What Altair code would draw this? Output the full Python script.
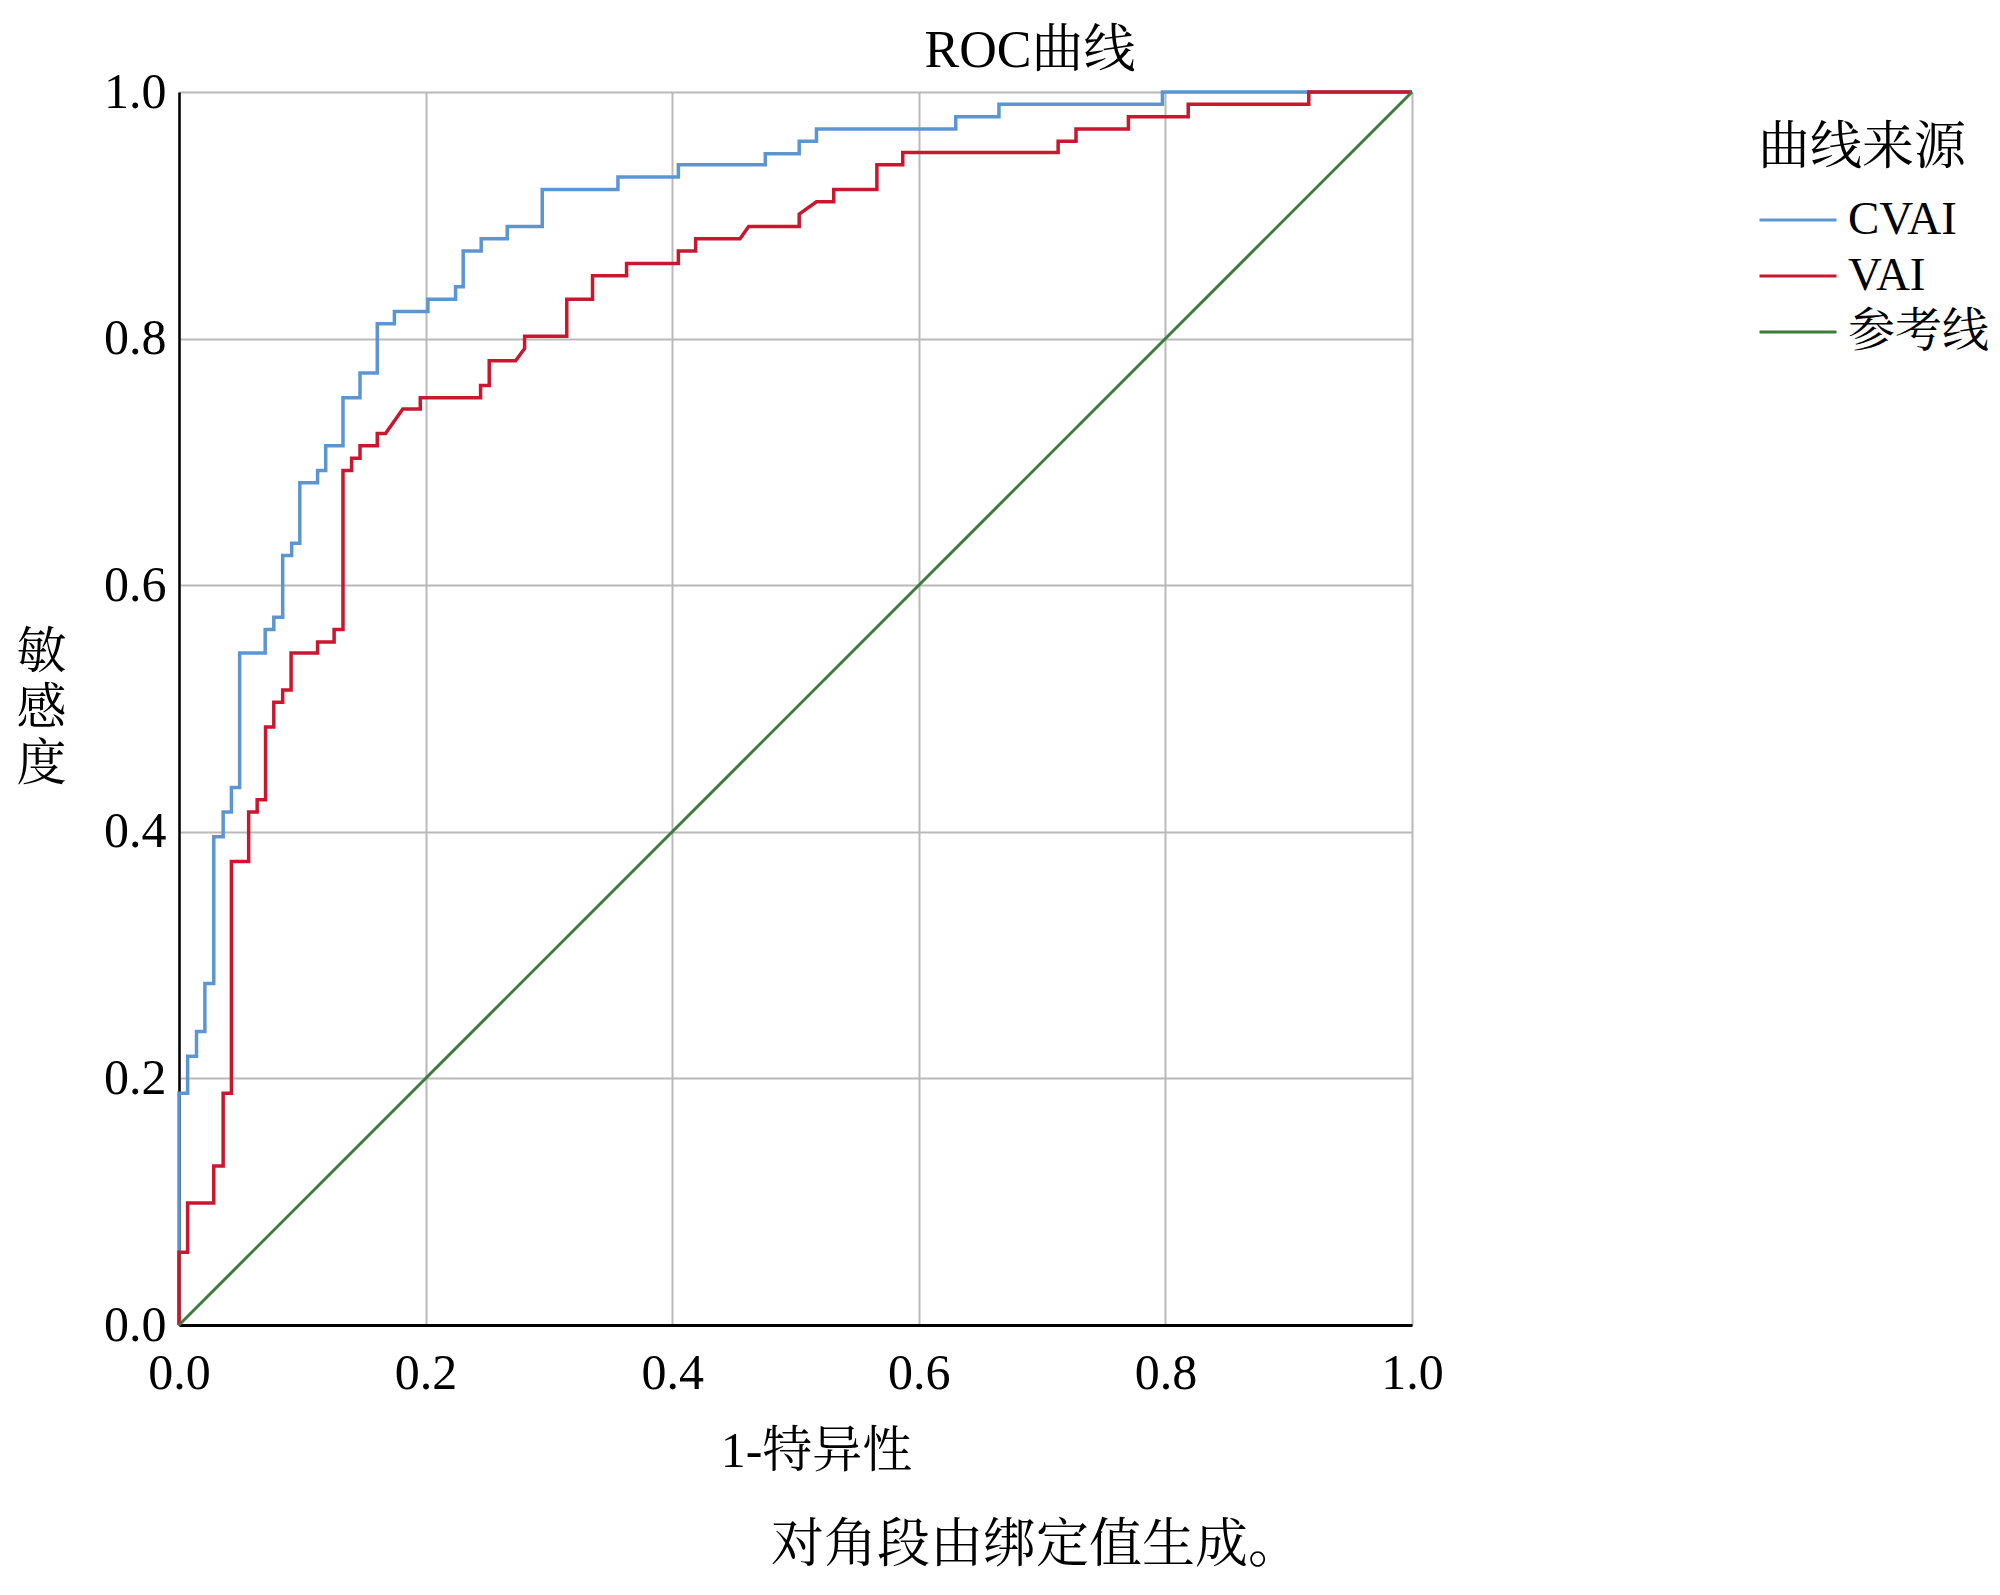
import altair as alt
import pandas as pd

# ---------------- data ----------------
series_names = ["CVAI", "VAI", "参考线"]
series_colors = ["#5b96d3", "#c8172f", "#3b7b3b"]
tick_values = [0.0, 0.2, 0.4, 0.6, 0.8, 1.0]

cvai_fpr = [0.0, 0.0, 0.007, 0.007, 0.0142, 0.0142, 0.021, 0.021, 0.0282, 0.0282,
            0.0358, 0.0358, 0.0425, 0.0425, 0.0492, 0.0492, 0.0699, 0.0699, 0.0769, 0.0769,
            0.0841, 0.0841, 0.0914, 0.0914, 0.098, 0.098, 0.1124, 0.1124, 0.119, 0.119,
            0.133, 0.133, 0.1468, 0.1468, 0.1608, 0.1608, 0.1747, 0.1747, 0.2019, 0.2019,
            0.2243, 0.2243, 0.2305, 0.2305, 0.2451, 0.2451, 0.2662, 0.2662, 0.2946, 0.2946,
            0.356, 0.356, 0.405, 0.405, 0.4755, 0.4755, 0.503, 0.503, 0.517, 0.517,
            0.630, 0.630, 0.665, 0.665, 0.7976, 0.7976, 1.0]
cvai_tpr = [0.0, 0.188, 0.188, 0.218, 0.218, 0.238, 0.238, 0.277, 0.277, 0.396,
            0.396, 0.416, 0.416, 0.436, 0.436, 0.545, 0.545, 0.564, 0.564, 0.574,
            0.574, 0.624, 0.624, 0.634, 0.634, 0.683, 0.683, 0.693, 0.693, 0.713,
            0.713, 0.752, 0.752, 0.772, 0.772, 0.812, 0.812, 0.822, 0.822, 0.832,
            0.832, 0.842, 0.842, 0.871, 0.871, 0.881, 0.881, 0.891, 0.891, 0.921,
            0.921, 0.931, 0.931, 0.941, 0.941, 0.950, 0.950, 0.960, 0.960, 0.970,
            0.970, 0.980, 0.980, 0.990, 0.990, 1.0, 1.0]

vai_fpr = [0.0, 0.0, 0.007, 0.007, 0.0282, 0.0282, 0.0358, 0.0358, 0.0425, 0.0425,
           0.0565, 0.0565, 0.0634, 0.0634, 0.0702, 0.0702, 0.0769, 0.0769, 0.0841, 0.0841,
           0.0909, 0.0909, 0.1124, 0.1124, 0.1258, 0.1258, 0.133, 0.133, 0.140, 0.140,
           0.1468, 0.1468, 0.1608, 0.1608, 0.1675, 0.1815, 0.1957, 0.1957, 0.2446, 0.2446,
           0.2516, 0.2516, 0.273, 0.2803, 0.2803, 0.3145, 0.3145, 0.3354, 0.3354, 0.363,
           0.363, 0.405, 0.405, 0.419, 0.419, 0.455, 0.462, 0.503, 0.503, 0.517,
           0.531, 0.531, 0.566, 0.566, 0.587, 0.587, 0.713, 0.713, 0.7275, 0.7275,
           0.770, 0.770, 0.8185, 0.8185, 0.9163, 0.9163, 1.0]
vai_tpr = [0.0, 0.059, 0.059, 0.099, 0.099, 0.129, 0.129, 0.188, 0.188, 0.376,
           0.376, 0.416, 0.416, 0.426, 0.426, 0.485, 0.485, 0.505, 0.505, 0.515,
           0.515, 0.545, 0.545, 0.554, 0.554, 0.564, 0.564, 0.693, 0.693, 0.703,
           0.703, 0.713, 0.713, 0.723, 0.723, 0.743, 0.743, 0.752, 0.752, 0.762,
           0.762, 0.782, 0.782, 0.792, 0.802, 0.802, 0.832, 0.832, 0.851, 0.851,
           0.861, 0.861, 0.871, 0.871, 0.881, 0.881, 0.891, 0.891, 0.901, 0.911,
           0.911, 0.921, 0.921, 0.941, 0.941, 0.951, 0.951, 0.960, 0.960, 0.970,
           0.970, 0.980, 0.980, 0.990, 0.990, 1.0, 1.0]

ref_fpr = [0.0, 1.0]
ref_tpr = [0.0, 1.0]

title_text = "ROC曲线"
x_title = "1-特异性"
y_title = ["敏", "感", "度"]
legend_title = "曲线来源"
footer_text = "对角段由绑定值生成。"

# ---------------- build ----------------
def frame(name, xs, ys):
    return pd.DataFrame({"fpr": xs, "tpr": ys, "series": name, "idx": list(range(len(xs)))})

FONT = "Liberation Serif, Times New Roman, Noto Serif CJK SC, Noto Sans CJK SC, serif"

W, H = 1233, 1233

color = alt.Color(
    "series:N",
    scale=alt.Scale(domain=series_names, range=series_colors),
    legend=alt.Legend(
        title=legend_title, orient="none", legendX=1579, legendY=31,
        symbolType="M-1,0H1.8", symbolSize=3025, symbolStrokeWidth=3,
        labelFontSize=47, titleFontSize=52, labelOffset=32, rowPadding=4,
        titlePadding=16, padding=0, labelFont=FONT, titleFont=FONT,
        titleFontWeight="normal", labelColor="black", titleColor="black",
        labelLimit=400, titleLimit=400,
    ),
)

x_enc = alt.X(
    "fpr:Q",
    scale=alt.Scale(domain=[0, 1], nice=False, zero=True),
    axis=alt.Axis(values=tick_values, format=".1f", title=x_title,
                  titleX=637, titleY=126, titleBaseline="middle", titleAlign="center",
                  labelPadding=23, domainWidth=3, labelFlush=False),
)
y_enc = alt.Y(
    "tpr:Q",
    scale=alt.Scale(domain=[0, 1], nice=False, zero=True),
    axis=alt.Axis(values=tick_values, format=".1f", title=y_title,
                  titleAngle=0, titleX=-138, titleY=560, titleBaseline="middle",
                  titleAlign="center", titleLineHeight=56, labelPadding=13,
                  domainWidth=2.5, labelFlush=False),
)

def curve(df, width):
    return alt.Chart(df).mark_line(strokeWidth=width, interpolate="linear").encode(
        x=x_enc, y=y_enc, color=color, order=alt.Order("idx:Q")
    )

layer_cvai = curve(frame("CVAI", cvai_fpr, cvai_tpr), 3.5)
layer_vai = curve(frame("VAI", vai_fpr, vai_tpr), 3.5)
layer_ref = curve(frame("参考线", ref_fpr, ref_tpr), 3)

title_mark = alt.Chart(pd.DataFrame({"t": [title_text]})).mark_text(
    font=FONT, fontSize=52, color="black", align="center", baseline="alphabetic"
).encode(text="t:N", x=alt.value(851), y=alt.value(-25))

footer = alt.Chart(pd.DataFrame({"t": [footer_text]})).mark_text(
    font=FONT, fontSize=53, color="black", align="center", baseline="middle"
).encode(text="t:N", x=alt.value(857), y=alt.value(1454))

chart = alt.layer(layer_cvai, layer_vai, layer_ref, title_mark, footer).properties(
    width=W, height=H,
    autosize=alt.AutoSizeParams(type="none"),
    padding={"left": 171, "top": 84, "right": 580, "bottom": 262},
    background="white",
).configure_view(stroke=None).configure_axis(
    labelFont=FONT, labelFontSize=50, labelColor="black",
    titleFont=FONT, titleFontSize=50, titleFontWeight="normal", titleColor="black",
    grid=True, gridColor="#b9b9b9", gridWidth=2, gridOpacity=1,
    domainColor="black", ticks=False,
)

chart.save("out.html", embed_options={"renderer": "svg", "actions": False})
